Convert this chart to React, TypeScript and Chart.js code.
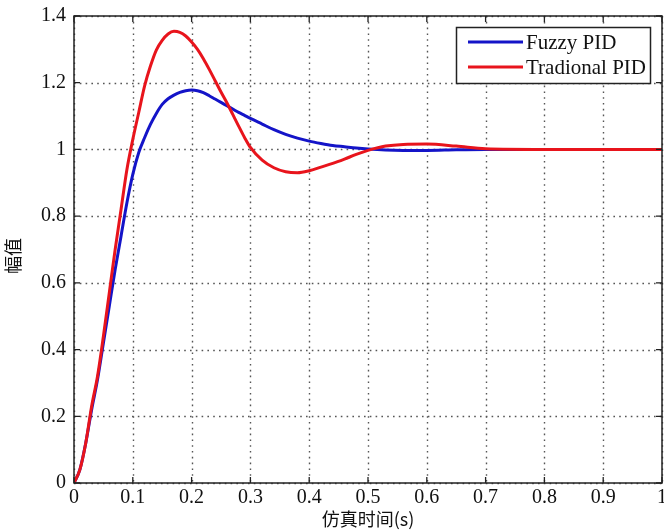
import React, { useEffect, useRef } from "react";
import { Chart, registerables } from "chart.js";

Chart.register(...registerables);

const timeS = [
  0, 0.01, 0.02, 0.03, 0.04, 0.05, 0.06, 0.07, 0.08, 0.09, 0.1, 0.11, 0.12, 0.13, 0.14, 0.15,
  0.16, 0.17, 0.18, 0.19, 0.2, 0.21, 0.22, 0.23, 0.24, 0.25, 0.26, 0.27, 0.28, 0.29, 0.3,
  0.32, 0.34, 0.36, 0.38, 0.4, 0.42, 0.44, 0.46, 0.48, 0.5, 0.53, 0.56, 0.6, 0.65, 0.7, 0.8,
  0.9, 1.0,
];

const fuzzyPID = [
  0, 0.04, 0.12, 0.22, 0.31, 0.42, 0.53, 0.64, 0.74, 0.84, 0.925, 0.99, 1.035, 1.075, 1.108, 1.135,
  1.152, 1.163, 1.171, 1.176, 1.178, 1.176, 1.17, 1.161, 1.151, 1.141, 1.131, 1.121, 1.111, 1.102, 1.093,
  1.076, 1.059, 1.045, 1.034, 1.025, 1.018, 1.012, 1.008, 1.004, 1.001, 0.998, 0.997, 0.997,
  0.999, 1.0, 1.0, 1.0, 1.0,
];

const traditionalPID = [
  0, 0.04, 0.12, 0.23, 0.32, 0.44, 0.57, 0.7, 0.82, 0.94, 1.03, 1.11, 1.19, 1.25, 1.298, 1.327,
  1.346, 1.354, 1.351, 1.34, 1.322, 1.3, 1.272, 1.24, 1.206, 1.172, 1.14, 1.105, 1.07, 1.036,
  1.006, 0.968, 0.945, 0.933, 0.93, 0.936, 0.947, 0.958, 0.971, 0.985, 0.997, 1.01, 1.015,
  1.016, 1.01, 1.002, 1.0, 1.0, 1.0,
];

const seriesNames = ["Fuzzy PID", "Tradional PID"];
const xTicks = [0, 0.1, 0.2, 0.3, 0.4, 0.5, 0.6, 0.7, 0.8, 0.9, 1];
const yTicks = [0, 0.2, 0.4, 0.6, 0.8, 1, 1.2, 1.4];
const xTitle = "仿真时间(s)";
const yTitle = "幅值";

const BLUE = "#1414c8";
const RED = "#e8141c";
const SERIF = "'Liberation Serif', 'Times New Roman', serif";
const CJK = "'Noto Sans CJK SC', sans-serif";

const fmt = (v: number) => String(Number(Number(v).toFixed(1)));

const framePlugin = {
  id: "frame",
  beforeDatasetsDraw(chart: any) {
    const { ctx, chartArea: a, scales } = chart;
    ctx.save();
    ctx.strokeStyle = "#555";
    ctx.lineWidth = 1.4;
    ctx.setLineDash([1.6, 4.2]);
    xTicks.forEach((t) => {
      const x = Math.round(scales.x.getPixelForValue(t)) + 0.5;
      ctx.beginPath();
      ctx.moveTo(x, a.top);
      ctx.lineTo(x, a.bottom);
      ctx.stroke();
    });
    yTicks.forEach((t) => {
      const y = Math.round(scales.y.getPixelForValue(t)) + 0.5;
      ctx.beginPath();
      ctx.moveTo(a.left, y);
      ctx.lineTo(a.right, y);
      ctx.stroke();
    });
    ctx.restore();
  },
  afterDatasetsDraw(chart: any) {
    const { ctx, chartArea: a, scales } = chart;
    ctx.save();
    ctx.setLineDash([]);
    ctx.strokeStyle = "#222";
    ctx.lineWidth = 1.5;
    ctx.strokeRect(a.left, a.top, a.right - a.left, a.bottom - a.top);
    const tl = 6;
    ctx.lineWidth = 1.3;
    xTicks.forEach((t) => {
      const x = scales.x.getPixelForValue(t);
      ctx.beginPath();
      ctx.moveTo(x, a.bottom);
      ctx.lineTo(x, a.bottom - tl);
      ctx.moveTo(x, a.top);
      ctx.lineTo(x, a.top + tl);
      ctx.stroke();
    });
    yTicks.forEach((t) => {
      const y = scales.y.getPixelForValue(t);
      ctx.beginPath();
      ctx.moveTo(a.left, y);
      ctx.lineTo(a.left + tl, y);
      ctx.moveTo(a.right, y);
      ctx.lineTo(a.right - tl, y);
      ctx.stroke();
    });

    // legend
    const lx = 456.5, ly = 27.5, lw = 194, lh = 56;
    ctx.fillStyle = "#fff";
    ctx.fillRect(lx, ly, lw, lh);
    ctx.strokeStyle = "#222";
    ctx.lineWidth = 1.5;
    ctx.strokeRect(lx, ly, lw, lh);
    const colors = [BLUE, RED];
    const rows = [42, 67];
    ctx.font = `21px ${SERIF}`;
    ctx.textBaseline = "middle";
    ctx.textAlign = "left";
    seriesNames.forEach((n, i) => {
      ctx.strokeStyle = colors[i];
      ctx.lineWidth = 3;
      ctx.beginPath();
      ctx.moveTo(468, rows[i]);
      ctx.lineTo(523, rows[i]);
      ctx.stroke();
      ctx.fillStyle = "#111";
      ctx.fillText(n, 526, rows[i] + 1);
    });

    // axis titles
    ctx.fillStyle = "#111";
    ctx.font = `18px ${CJK}`;
    ctx.textAlign = "center";
    ctx.textBaseline = "middle";
    ctx.fillText(xTitle, (a.left + a.right) / 2, 519);
    ctx.save();
    ctx.translate(13, 256);
    ctx.rotate(-Math.PI / 2);
    ctx.fillText(yTitle, 0, 0);
    ctx.restore();
    ctx.restore();
  },
};

export default function App() {
  const ref = useRef<HTMLCanvasElement | null>(null);
  useEffect(() => {
    document.body.style.margin = "0";
    const canvas = ref.current;
    if (!canvas) return;
    const chart = new Chart(canvas, {
      type: "line",
      data: {
        datasets: [
          {
            label: seriesNames[0],
            data: timeS.map((t, i) => ({ x: t, y: fuzzyPID[i] })),
            borderColor: BLUE,
            borderWidth: 3,
            pointRadius: 0,
            cubicInterpolationMode: "monotone",
            order: 1,
          },
          {
            label: seriesNames[1],
            data: timeS.map((t, i) => ({ x: t, y: traditionalPID[i] })),
            borderColor: RED,
            borderWidth: 3,
            pointRadius: 0,
            cubicInterpolationMode: "monotone",
            order: 0,
          },
        ],
      },
      options: {
        responsive: false,
        animation: false,
        layout: { padding: { top: 16, right: 2, left: 0, bottom: 0 } },
        plugins: { legend: { display: false }, tooltip: { enabled: false } },
        scales: {
          x: {
            type: "linear",
            min: 0,
            max: 1,
            grid: { display: false, drawTicks: false },
            border: { display: false },
            afterBuildTicks: (s: any) => {
              s.ticks = xTicks.map((v) => ({ value: v }));
            },
            afterFit: (s: any) => {
              s.height = 48;
              s.paddingLeft = 0;
              s.paddingRight = 0;
            },
            ticks: {
              color: "#111",
              font: { family: SERIF, size: 20 },
              padding: 3,
              maxRotation: 0,
              autoSkip: false,
              callback: (v: any) => fmt(v),
            },
          },
          y: {
            type: "linear",
            min: 0,
            max: 1.4,
            grid: { display: false, drawTicks: false },
            border: { display: false },
            afterBuildTicks: (s: any) => {
              s.ticks = yTicks.map((v) => ({ value: v }));
            },
            afterFit: (s: any) => {
              s.width = 74;
              s.paddingTop = 0;
              s.paddingBottom = 0;
            },
            ticks: {
              color: "#111",
              font: { family: SERIF, size: 20 },
              padding: 8,
              autoSkip: false,
              callback: (v: any) => fmt(v),
            },
          },
        },
      },
      plugins: [framePlugin],
    });
    return () => chart.destroy();
  }, []);
  return (
    <div style={{ position: "absolute", left: 0, top: 0, width: 664, height: 531, background: "#fff" }}>
      <canvas ref={ref} width={664} height={531} style={{ display: "block" }} />
    </div>
  );
}
